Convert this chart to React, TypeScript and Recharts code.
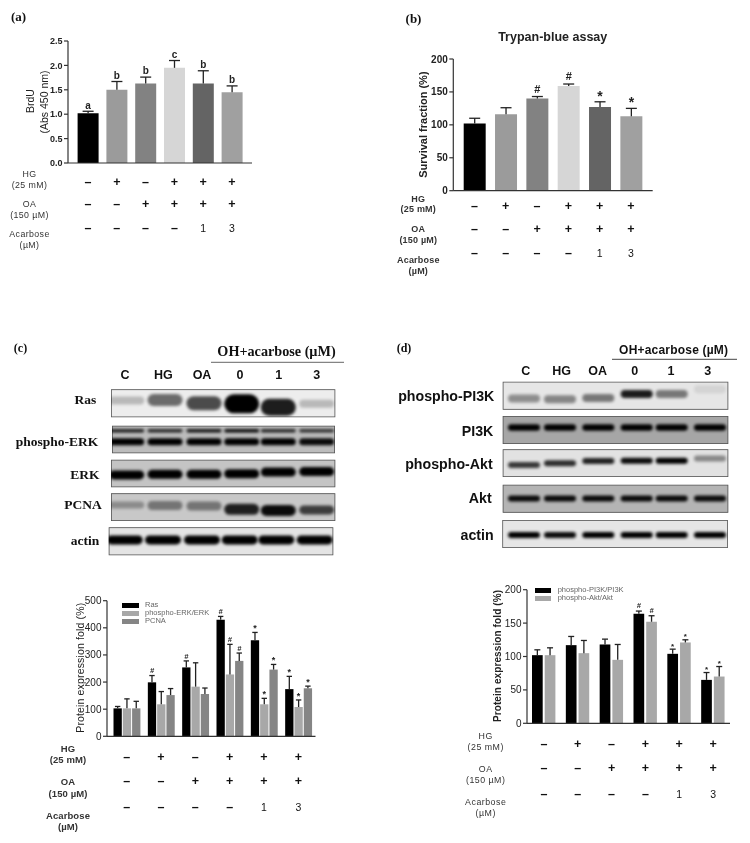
import React from "react";
import { Bar, BarChart, Cell, ErrorBar, LabelList, Legend, XAxis, YAxis } from "recharts";

const SANS = '"Liberation Sans", Arial, sans-serif';
const SERIF = '"Liberation Serif", "Times New Roman", serif';

const groups = ["C", "HG", "OA", "0", "1", "3"];
const hgRow = ["–", "+", "–", "+", "+", "+"];
const oaRow = ["–", "–", "+", "+", "+", "+"];
const acaRow = ["–", "–", "–", "–", "1", "3"];

// panel a
const brduTicks = [0, 0.5, 1, 1.5, 2, 2.5];
const brduValues = [1.02, 1.5, 1.63, 1.95, 1.63, 1.45];
const brduTops = [1.06, 1.67, 1.76, 2.1, 1.89, 1.58];
const brduMarks = ["a", "b", "b", "c", "b", "b"];
const brduColors = ["#000000", "#9b9b9b", "#828282", "#d6d6d6", "#646464", "#a0a0a0"];

// panel b
const survivalTicks = [0, 50, 100, 150, 200];
const survivalValues = [102, 116, 140, 159, 127, 113];
const survivalTops = [110, 126, 143, 162, 135, 125];
const survivalMarks = ["", "", "#", "#", "*", "*"];

// panel c
const expressionTicksC = [0, 100, 200, 300, 400, 500];
const rasValues = [103, 199, 254, 430, 354, 174];
const rasTops = [110, 224, 278, 442, 383, 221];
const rasMarks = ["", "#", "#", "#", "*", "*"];
const perkValues = [103, 118, 183, 228, 118, 108];
const perkTops = [138, 165, 271, 339, 140, 134];
const perkMarks = ["", "", "", "#", "*", "*"];
const pcnaValues = [103, 152, 156, 278, 246, 177];
const pcnaTops = [129, 176, 178, 307, 265, 185];
const pcnaMarks = ["", "", "", "#", "*", "*"];

// panel d
const expressionTicksD = [0, 50, 100, 150, 200];
const pi3kValues = [102, 117, 118, 164, 104, 65];
const pi3kTops = [110, 130, 126, 168, 111, 76];
const pi3kMarks = ["", "", "", "#", "*", "*"];
const aktValues = [102, 105, 95, 152, 121, 70];
const aktTops = [113, 124, 118, 161, 125, 85];
const aktMarks = ["", "", "", "#", "*", "*"];

// western blot lanes: darkness, band height (px) and vertical place in the strip
const rasDark = [0.22, 0.55, 0.68, 1, 0.88, 0.22];
const rasHeight = [8, 12, 14, 19, 17, 8];
const rasPlace = [0.4, 0.38, 0.5, 0.52, 0.64, 0.52];
const perkDark = [1, 1, 1, 1, 1, 0.95];
const perkUpperDark = [0.85, 0.8, 0.9, 0.95, 0.8, 0.75];
const erkDark = [1, 1, 1, 1, 1, 1];
const erkPlace = [0.55, 0.53, 0.53, 0.51, 0.45, 0.43];
const pcnaDark = [0.3, 0.42, 0.42, 0.85, 0.95, 0.7];
const pcnaHeight = [7, 9, 9, 11, 11, 9];
const pcnaPlace = [0.42, 0.44, 0.46, 0.58, 0.62, 0.6];
const actinDarkC = [1, 1, 1, 1, 1, 1];
const ppi3kDark = [0.38, 0.42, 0.48, 0.88, 0.48, 0.08];
const ppi3kPlace = [0.6, 0.63, 0.58, 0.44, 0.44, 0.27];
const pi3kDark = [1, 1, 1, 1, 1, 1];
const pakDark = [0.75, 0.8, 0.85, 0.95, 1, 0.4];
const pakPlace = [0.57, 0.5, 0.42, 0.41, 0.41, 0.33];
const aktDark = [0.95, 0.95, 0.95, 0.95, 0.95, 0.95];
const actinDarkD = [1, 0.95, 1, 1, 1, 1];

const lanesC = [126.7, 165, 204, 241.7, 278.3, 316.7];
const lanesD = [524, 560, 598.3, 636.7, 671.7, 710];

function table(series: { key: string; values: number[]; tops: number[] }[]) {
  return groups.map((name, i) => {
    const row: any = { name, hg: hgRow[i], oa: oaRow[i], aca: acaRow[i] };
    series.forEach((s) => {
      row[s.key] = s.values[i];
      row[s.key + "Err"] = [0, s.tops[i] - s.values[i]];
    });
    return row;
  });
}

const brduData = table([{ key: "brdu", values: brduValues, tops: brduTops }]);
const survivalData = table([{ key: "survival", values: survivalValues, tops: survivalTops }]);
const blotCData = table([
  { key: "ras", values: rasValues, tops: rasTops },
  { key: "perk", values: perkValues, tops: perkTops },
  { key: "pcna", values: pcnaValues, tops: pcnaTops },
]);
const blotDData = table([
  { key: "pi3k", values: pi3kValues, tops: pi3kTops },
  { key: "akt", values: aktValues, tops: aktTops },
]);

// mark sits just over the whisker, using the bar's own px-per-unit
// styles: mark -> [font size, gap over the cap]
const sigLabel = (values: number[], tops: number[], marks: string[], styles: Record<string, number[]>) => (props: any) => {
  const { x, y, width, height } = props.viewBox ?? props;
  const i = props.index;
  const mark = marks[i];
  if (!mark) return null;
  const [size, gap] = styles[mark];
  const topY = y - (tops[i] - values[i]) * (height / values[i]);
  return (
    <text
      x={x + width / 2}
      y={topY - gap}
      textAnchor="middle"
      fontFamily={SANS}
      fontSize={size}
      fontWeight={700}
      fontStyle={mark === "#" && size < 9 ? "italic" : "normal"}
      fill="#222"
    >
      {mark}
    </text>
  );
};

const RowTick = (props: any) => {
  const { x, y, payload } = props;
  const isDigit = /\d/.test(payload.value);
  return (
    <text
      x={x}
      y={y}
      textAnchor="middle"
      dominantBaseline="central"
      fontFamily={SANS}
      fontWeight={isDigit ? 400 : 700}
      fontSize={isDigit ? 10.5 : 12.5}
      fill="#111"
    >
      {payload.value}
    </text>
  );
};

// axis ids decide the stacking order under the plot
const rowAxis = (id: string, dataKey: string, height: number, margin: number, padding: { left: number; right: number }) => (
  <XAxis
    key={id}
    xAxisId={id}
    dataKey={dataKey}
    height={height}
    tickSize={0}
    tickMargin={margin}
    axisLine={false}
    tickLine={false}
    interval={0}
    padding={padding}
    tick={<RowTick />}
  />
);

const baseAxis = (padding: { left: number; right: number }) => (
  <XAxis
    dataKey="name"
    height={8}
    tick={false}
    tickSize={4}
    padding={padding}
    axisLine={{ stroke: "#333", strokeWidth: 1.2 }}
    tickLine={{ stroke: "#333", strokeWidth: 1.2 }}
    interval={0}
  />
);

const valueAxis = (width: number, domain: number[], ticks: number[], fontSize: number, weight: number, format?: (v: number) => string) => (
  <YAxis
    width={width}
    domain={domain}
    ticks={ticks}
    interval={0}
    tickSize={4}
    tickMargin={1.5}
    tickFormatter={format}
    axisLine={{ stroke: "#333", strokeWidth: 1.2 }}
    tickLine={{ stroke: "#333", strokeWidth: 1.2 }}
    tick={{ fontFamily: SANS, fontSize, fontWeight: weight, fill: "#222" }}
  />
);

const LegendBox = (textX: number, rowGap: number, swatch: number) => (props: any) => (
  <div style={{ position: "relative" }}>
    {props.payload.map((p: any, i: number) => (
      <div key={p.value} style={{ position: "absolute", left: 0, top: i * rowGap, height: rowGap, whiteSpace: "nowrap" }}>
        <span style={{ position: "absolute", left: 0, top: 1.5, width: swatch, height: 5, background: p.color }} />
        <span style={{ position: "absolute", left: textX, top: -0.5, fontFamily: SANS, fontSize: 7.5, lineHeight: "8px", color: "#666" }}>
          {p.value}
        </span>
      </div>
    ))}
  </div>
);

const T = ({ x, y, s, w = 400, anchor = "middle", fam = SANS, fill = "#222", rot, ls, children }: any) => (
  <text
    x={x}
    y={y}
    fontSize={s}
    fontWeight={w}
    textAnchor={anchor}
    fontFamily={fam}
    fill={fill}
    letterSpacing={ls}
    dominantBaseline="central"
    transform={rot ? `rotate(-90 ${x} ${y})` : undefined}
  >
    {children}
  </text>
);

const Bands = ({ lanes, x, h, dark, height, place, width = 35 }: any) =>
  lanes.map((c: number, i: number) => (
    <rect
      key={i}
      x={c - x - width / 2}
      y={place[i] * h - height[i] / 2}
      width={width}
      height={height[i]}
      rx={height[i] / 2}
      fill="#000"
      opacity={dark[i]}
      filter="url(#soft)"
    />
  ));

const Strip = ({ x, y, w, h, bg, children }: any) => (
  <svg x={x} y={y} width={w} height={h}>
    <rect x={0} y={0} width={w} height={h} fill={bg} stroke="#555" strokeWidth={1.6} />
    {children}
  </svg>
);

const same = (v: number) => groups.map(() => v);

const RowLabels = ({ x, ys, s, w, ls }: any) => (
  <>
    {["HG", "(25 mM)", "OA", "(150 µM)", "Acarbose", "(µM)"].map((t, i) => (
      <T key={t} x={x} y={ys[i]} s={s} w={w} ls={ls} fill="#333">
        {t}
      </T>
    ))}
  </>
);

function Overlay() {
  return (
    <svg width={750} height={843} style={{ position: "absolute", left: 0, top: 0, pointerEvents: "none" }}>
      <defs>
        <filter id="soft" x="-30%" y="-80%" width="160%" height="260%">
          <feGaussianBlur stdDeviation="1.6" />
        </filter>
      </defs>

      {/* panel a / b text */}
      <T x={18.5} y={16.5} s={13} w={700} fam={SERIF} fill="#111">(a)</T>
      <T x={30} y={101} s={10.5} rot>BrdU</T>
      <T x={43.5} y={102} s={10.5} rot>(Abs 450 nm)</T>
      <RowLabels x={29.5} ys={[174, 184.5, 204, 215, 234, 245]} s={8.8} w={400} ls={0.4} />

      <T x={413.5} y={18.5} s={13} w={700} fam={SERIF} fill="#111">(b)</T>
      <T x={552.7} y={37.3} s={12.5} w={700}>Trypan-blue assay</T>
      <T x={423.3} y={124.6} s={11} w={700} rot>Survival fraction (%)</T>
      <RowLabels x={418.3} ys={[198.7, 209, 228.7, 239.7, 259.7, 270.7]} s={9} w={700} ls={0.2} />

      {/* panel c blots */}
      <T x={20.5} y={348} s={12} w={700} fam={SERIF} fill="#111">(c)</T>
      <T x={276.5} y={351.3} s={14.2} w={700} fam={SERIF} fill="#111">OH+acarbose (µM)</T>
      <line x1={211} x2={344} y1={362.3} y2={362.3} stroke="#666" strokeWidth={1} />
      {groups.map((g, i) => (
        <T key={g} x={[125, 163.3, 202, 240, 278.7, 316.7][i]} y={374.7} s={12.5} w={700} fill="#111">{g}</T>
      ))}
      <T x={85.3} y={399} s={13.5} w={700} fam={SERIF} fill="#111">Ras</T>
      <T x={57} y={441} s={13.5} w={700} fam={SERIF} fill="#111">phospho-ERK</T>
      <T x={85} y={474} s={13.5} w={700} fam={SERIF} fill="#111">ERK</T>
      <T x={83} y={504.3} s={13.5} w={700} fam={SERIF} fill="#111">PCNA</T>
      <T x={85} y={540.3} s={13.5} w={700} fam={SERIF} fill="#111">actin</T>

      <Strip x={111} y={389.3} w={224.3} h={28} bg="#ededed">
        <Bands lanes={lanesC} x={111} h={28} dark={rasDark} height={rasHeight} place={rasPlace} />
      </Strip>
      <Strip x={112} y={425.7} w={223} h={27.6} bg="#bcbcbc">
        <Bands lanes={lanesC} x={112} h={27.6} dark={perkUpperDark} height={same(3.5)} place={same(0.18)} />
        <Bands lanes={lanesC} x={112} h={27.6} dark={perkDark} height={same(7)} place={same(0.58)} />
      </Strip>
      <Strip x={111} y={459.7} w={224.3} h={27.6} bg="#c4c4c4">
        <Bands lanes={lanesC} x={111} h={27.6} dark={erkDark} height={same(9)} place={erkPlace} />
      </Strip>
      <Strip x={111} y={493.3} w={224.3} h={27.7} bg="#c8c8c8">
        <Bands lanes={lanesC} x={111} h={27.7} dark={pcnaDark} height={pcnaHeight} place={pcnaPlace} />
      </Strip>
      <Strip x={108.7} y={527.3} w={224.6} h={28} bg="#e4e4e4">
        <Bands lanes={lanesC.map((c) => c - 2)} x={108.7} h={28} dark={actinDarkC} height={same(9)} place={same(0.45)} width={36} />
      </Strip>

      {/* panel d blots */}
      <T x={404} y={348} s={12} w={700} fam={SERIF} fill="#111">(d)</T>
      <T x={673.7} y={350} s={12} w={700} fill="#111" ls={0.2}>OH+acarbose  (µM)</T>
      <line x1={612} x2={737} y1={359.3} y2={359.3} stroke="#444" strokeWidth={1} />
      {groups.map((g, i) => (
        <T key={g} x={[525.7, 561.7, 597.7, 634.7, 671, 707.7][i]} y={371.3} s={12.5} w={700} fill="#111">{g}</T>
      ))}
      <T x={494.3} y={396} s={14.2} w={700} anchor="end" fill="#111">phospho-PI3K</T>
      <T x={493.3} y={430.7} s={14.2} w={700} anchor="end" fill="#111">PI3K</T>
      <T x={492.7} y={464} s={14.2} w={700} anchor="end" fill="#111">phospho-Akt</T>
      <T x={491.7} y={497.7} s={14.2} w={700} anchor="end" fill="#111">Akt</T>
      <T x={493.7} y={535} s={14.2} w={700} anchor="end" fill="#111">actin</T>

      <Strip x={502.7} y={381.7} w={225.6} h={28} bg="#e6e6e6">
        <Bands lanes={lanesD} x={502.7} h={28} dark={ppi3kDark} height={same(8)} place={ppi3kPlace} width={32} />
      </Strip>
      <Strip x={502.7} y={416} w={225.6} h={28} bg="#a6a6a6">
        <Bands lanes={lanesD} x={502.7} h={28} dark={pi3kDark} height={same(6.5)} place={same(0.41)} width={32} />
      </Strip>
      <Strip x={502.7} y={449.3} w={225.6} h={27.7} bg="#e2e2e2">
        <Bands lanes={lanesD} x={502.7} h={27.7} dark={pakDark} height={same(6)} place={pakPlace} width={32} />
      </Strip>
      <Strip x={502.7} y={484.7} w={225.6} h={28} bg="#b4b4b4">
        <Bands lanes={lanesD} x={502.7} h={28} dark={aktDark} height={same(6)} place={same(0.49)} width={32} />
      </Strip>
      <Strip x={502.3} y={520} w={225.6} h={28} bg="#e6e6e6">
        <Bands lanes={lanesD} x={502.3} h={28} dark={actinDarkD} height={same(6)} place={same(0.54)} width={32} />
      </Strip>

      {/* panel c / d charts text */}
      <T x={80} y={667.7} s={10.5} w={400} ls={0.15} rot>Protein expression fold (%)</T>
      <RowLabels x={68} ys={[748, 759.3, 781.7, 793, 815, 826]} s={9.5} w={700} ls={0.1} />
      <T x={497.7} y={656} s={10} w={700} ls={0.1} rot>Protein expression fold (%)</T>
      <RowLabels x={485.7} ys={[736, 747.3, 768.7, 780, 801.7, 813.3]} s={8.8} w={400} ls={0.5} />
    </svg>
  );
}

export default function App() {
  const padA = { left: 5.6, right: 5.6 };
  const padB = { left: 5.4, right: 6 };
  const padC = { left: 2.5, right: 0 };
  const padD = { left: 0, right: 0 };
  const whisker = { stroke: "#222", strokeWidth: 1.3, direction: "y" as const, isAnimationActive: false };
  const marksC = { "#": [7.5, 2.3], "*": [9, 1] };
  const marksD = { "#": [7.5, 3], "*": [8, 0.3] };

  return (
    <div style={{ position: "absolute", left: 0, top: 0, width: 750, height: 843, background: "#fff", overflow: "hidden", filter: "blur(0.35px)" }}>
      <style>{".recharts-errorBar line:last-child{display:none}"}</style>

      <div style={{ position: "absolute", left: 0, top: 0 }}>
        <BarChart width={260} height={239} data={brduData} barSize={21} margin={{ top: 41, right: 8, left: 0, bottom: 0 }}>
          {baseAxis(padA)}
          {rowAxis("r1", "hg", 22, 10.7, padA)}
          {rowAxis("r2", "oa", 22, 10.7, padA)}
          {rowAxis("r3", "aca", 24, 12.7, padA)}
          {valueAxis(68, [0, 2.5], brduTicks, 9, 700, (v) => v.toFixed(1))}
          <Bar dataKey="brdu" isAnimationActive={false}>
            {brduColors.map((c) => (
              <Cell key={c} fill={c} />
            ))}
            <ErrorBar dataKey="brduErr" width={5.5} {...whisker} />
            <LabelList dataKey="brdu" content={sigLabel(brduValues, brduTops, brduMarks, { a: [10, 2.7], b: [10, 2.7], c: [10, 2.7] })} />
          </Bar>
        </BarChart>
      </div>

      <div style={{ position: "absolute", left: 375, top: 0 }}>
        <BarChart width={282.7} height={262.7} data={survivalData} barSize={22} margin={{ top: 59, right: 5, left: 0, bottom: 0 }}>
          {baseAxis(padB)}
          {rowAxis("r1", "hg", 22, 7, padB)}
          {rowAxis("r2", "oa", 22, 8, padB)}
          {rowAxis("r3", "aca", 20, 10.6, padB)}
          {valueAxis(78.3, [0, 200], survivalTicks, 10, 700)}
          <Bar dataKey="survival" isAnimationActive={false}>
            {brduColors.map((c) => (
              <Cell key={c} fill={c} />
            ))}
            <ErrorBar dataKey="survivalErr" width={5.5} {...whisker} />
            <LabelList dataKey="survival" content={sigLabel(survivalValues, survivalTops, survivalMarks, { "#": [11, 3.7], "*": [14, 1] })} />
          </Bar>
        </BarChart>
      </div>

      <div style={{ position: "absolute", left: 0, top: 585 }}>
        <BarChart width={320.5} height={235.3} data={blotCData} barSize={8.3} barGap={1} margin={{ top: 15.7, right: 5, left: 0, bottom: 0 }}>
          {baseAxis(padC)}
          {rowAxis("r1", "hg", 24, 12.4, padC)}
          {rowAxis("r2", "oa", 26, 12.7, padC)}
          {rowAxis("r3", "aca", 26, 13, padC)}
          {valueAxis(107, [0, 500], expressionTicksC, 10, 400)}
          <Legend
            layout="horizontal"
            verticalAlign="middle"
            align="center"
            itemSorter={null}
            wrapperStyle={{ left: 122, top: 16, width: 100, height: 26 }}
            content={LegendBox(23, 8.4, 17)}
          />
          <Bar dataKey="ras" name="Ras" fill="#000000" isAnimationActive={false}>
            <ErrorBar dataKey="rasErr" width={2.7} {...whisker} />
            <LabelList dataKey="ras" content={sigLabel(rasValues, rasTops, rasMarks, marksC)} />
          </Bar>
          <Bar dataKey="perk" name="phospho-ERK/ERK" fill="#a8a8a8" isAnimationActive={false}>
            <ErrorBar dataKey="perkErr" width={2.7} {...whisker} />
            <LabelList dataKey="perk" content={sigLabel(perkValues, perkTops, perkMarks, marksC)} />
          </Bar>
          <Bar dataKey="pcna" name="PCNA" fill="#858585" isAnimationActive={false}>
            <ErrorBar dataKey="pcnaErr" width={2.7} {...whisker} />
            <LabelList dataKey="pcna" content={sigLabel(pcnaValues, pcnaTops, pcnaMarks, marksC)} />
          </Bar>
        </BarChart>
      </div>

      <div style={{ position: "absolute", left: 375, top: 575 }}>
        <BarChart width={360} height={232.3} data={blotDData} barSize={10.7} barGap={2} margin={{ top: 14.7, right: 5, left: 0, bottom: 0 }}>
          {baseAxis(padD)}
          {rowAxis("r1", "hg", 24, 13, padD)}
          {rowAxis("r2", "oa", 26, 13, padD)}
          {rowAxis("r3", "aca", 26, 13, padD)}
          {valueAxis(152, [0, 200], expressionTicksD, 10, 400)}
          <Legend
            layout="horizontal"
            verticalAlign="middle"
            align="center"
            itemSorter={null}
            wrapperStyle={{ left: 160, top: 11, width: 100, height: 18 }}
            content={LegendBox(22.7, 8.3, 16)}
          />
          <Bar dataKey="pi3k" name="phospho-PI3K/PI3K" fill="#000000" isAnimationActive={false}>
            <ErrorBar dataKey="pi3kErr" width={3} {...whisker} />
            <LabelList dataKey="pi3k" content={sigLabel(pi3kValues, pi3kTops, pi3kMarks, marksD)} />
          </Bar>
          <Bar dataKey="akt" name="phospho-Akt/Akt" fill="#a8a8a8" isAnimationActive={false}>
            <ErrorBar dataKey="aktErr" width={3} {...whisker} />
            <LabelList dataKey="akt" content={sigLabel(aktValues, aktTops, aktMarks, marksD)} />
          </Bar>
        </BarChart>
      </div>

      <Overlay />
    </div>
  );
}
